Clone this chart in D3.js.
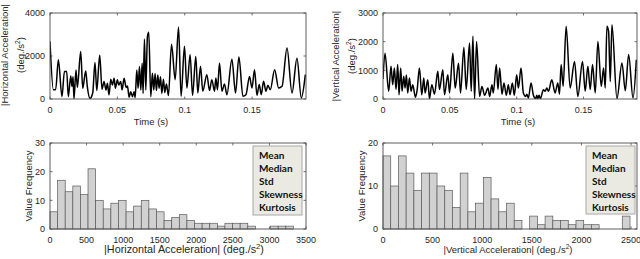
<!DOCTYPE html>
<html>
<head>
<meta charset="utf-8">
<script src="https://cdn.jsdelivr.net/npm/d3@7"></script>
<style>
    body { margin: 0; background: #fff; }
    svg { display: block; font-family: "Liberation Sans", Arial, sans-serif; }
</style>
</head>
<body>
<svg width="640" height="259"></svg>
<script>
// time (ms), |acceleration| (deg./s^2)
const horizontalSeries = [
    [0, 2680], [2.5, 430], [4.2, 430], [6.2, 1820], [8.9, 110], [10.7, 1280], [12.4, 1280], [13.6, 110],
    [15.4, 1070], [16.3, 580], [17.1, 1040], [17.8, 0], [19.3, 1350], [20.3, 540], [22.8, 2210], [24.3, 500],
    [26.5, 1300], [27.7, 580], [29.7, 30], [31.7, 280], [33.4, 1700], [34.7, 390], [36.9, 2040], [38.6, 450],
    [40.1, 810], [41.6, 420], [42.6, 730], [43.8, 190], [45.1, 920], [46.3, 650], [47.6, 960], [48.5, 500],
    [50.0, 890], [51.0, 650], [52.5, 810], [53.5, 420], [55.0, 960], [56.5, 540], [57.5, 600], [58.7, 80],
    [59.9, 340], [61.2, 110], [62.4, 340], [63.2, 60], [64.4, 1350], [65.4, 500], [66.4, 1510], [67.4, 420],
    [68.4, 1660], [69.1, 260], [70.1, 2790], [71.1, 420], [72.3, 2900], [73.3, 3100], [74.8, 110], [76.0, 1200],
    [77.0, 420], [78.0, 1170], [79.0, 390], [80.0, 1120], [81.0, 500], [82.0, 1040], [83.0, 260], [84.2, 920],
    [85.2, 300], [86.4, 700], [87.9, 160], [90.2, 2550], [92.9, 900], [95.4, 3350], [97.3, 125], [99.8, 2450],
    [101.6, 510], [104.0, 2060], [105.8, 170], [108.2, 1980], [109.7, 280], [111.7, 1520], [113.4, 360], [116.4, 1130],
    [118.4, 390], [120.1, 900], [122.1, 360], [123.1, 980], [124.3, 430], [125.8, 1670], [127.6, 360], [129.5, 700],
    [131.3, 200], [135.0, 1850], [137.7, 280], [140.2, 1950], [143.2, 130], [145.4, 200], [148.1, 1050], [149.9, 510],
    [151.8, 1360], [153.6, 170], [155.3, 670], [156.8, 200], [158.5, 820], [160.3, 360], [161.7, 640], [163.5, 430],
    [166.7, 1360], [169.7, 510], [172.2, 590], [175.9, 2370], [179.6, 280], [183.3, 1900], [186.5, 50], [189.5, 1130]
];

const verticalSeries = [
    [0, 700], [1.5, 1600], [4.25, 270], [6.0, 1140], [7.25, 500], [8.5, 1080], [9.75, 330], [11.0, 1200],
    [12.0, 150], [13.25, 1080], [14.25, 270], [15.5, 790], [16.5, 380], [17.5, 840], [18.5, 210], [19.75, 730],
    [21.0, 270], [22.25, 500], [24.25, 60], [25.5, 300], [27.25, 1080], [29.0, 150], [30.5, 730], [31.5, 210],
    [33.5, 670], [34.75, 10], [36.5, 500], [38.5, 170], [41.0, 965], [42.25, 330], [44.75, 1020], [46.0, 150],
    [48.5, 850], [49.75, 210], [52.25, 1600], [54.0, 380], [56.5, 1250], [58.0, 210], [60.5, 1800], [62.25, 330],
    [64.75, 1950], [66.0, 270], [67.25, 2190], [68.5, 0], [70.0, 2010], [72.25, 90], [74.0, 440], [76.0, 130],
    [78.5, 380], [79.75, 90], [81.5, 500], [82.5, 210], [84.75, 1200], [86.0, 330], [87.25, 1080], [89.0, 170],
    [90.5, 560], [92.25, 130], [93.75, 500], [95.0, 150], [96.75, 560], [98.25, 130], [100.0, 850], [101.25, 380],
    [103.25, 1080], [105.0, 210], [106.75, 90], [107.5, 170], [108.75, 35], [110.75, 560], [112.5, 130], [114.25, 10],
    [115.0, 130], [115.75, 10], [116.75, 130], [117.75, 10], [120.0, 325], [121.25, 270], [122.5, 380], [123.75, 270],
    [126.25, 670], [128.75, 210], [130.75, 560], [132.0, 170], [133.25, 1200], [134.75, 440], [137.0, 2535], [140.0, 380],
    [143.25, 1310], [145.75, 90], [149.25, 1310], [151.25, 270], [153.25, 1140], [155.0, 330], [156.75, 1200], [158.75, 210],
    [160.75, 2010], [163.25, 440], [165.0, 1080], [166.25, 380], [167.5, 2535], [168.75, 2360], [170.0, 610], [171.25, 2590],
    [175.0, 10], [178.75, 1255], [181.25, 290], [183.75, 1550], [187.0, 35], [189.5, 1370]
];

// histogram counts per bin
const horizontalCounts = [6, 17, 13, 15, 12, 21, 10, 7, 9, 10, 6, 8, 10, 7, 6, 3,
    4, 5, 3, 2, 2, 2, 1, 2, 2, 2, 1, 0, 0, 1, 1, 1];
const verticalCounts = [17, 10, 17, 13, 9, 13, 13, 10, 9, 5, 13, 4, 6, 12, 7, 4,
    6, 2, 0, 3, 1, 3, 2, 2, 1, 2, 1, 1, 0, 0, 0, 3];
const horizontalBinWidth = 104;
const verticalBinWidth = 77.8;

const timeTicks = [0, 0.05, 0.1, 0.15];
const horizontalAccelTicks = [0, 2000, 4000];
const verticalAccelTicks = [0, 1000, 2000, 3000];
const horizontalHistTicks = [0, 500, 1000, 1500, 2000, 2500, 3000, 3500];
const verticalHistTicks = [0, 500, 1000, 1500, 2000, 2500];
const horizontalFreqTicks = [0, 10, 20, 30];
const verticalFreqTicks = [0, 10, 20];
const statNames = ["Mean", "Median", "Std", "Skewness", "Kurtosis"];

const AXIS_COLOR = "#262626";
const BOX_COLOR = "#4d4d4d";

class Figure {
    constructor() {
        this.svg = d3.select("svg");
        this.clipCount = 0;
    }

    frame(box, x, y, xTicks, yTicks, xFormat, yFormat) {
        const g = this.svg.append("g");
        const tickLen = 2.5;

        g.append("rect")
            .attr("x", box.left).attr("y", box.top)
            .attr("width", box.right - box.left)
            .attr("height", box.bottom - box.top)
            .attr("fill", "#fff");

        const marks = g.append("g")
            .attr("stroke", BOX_COLOR)
            .attr("stroke-width", 0.8);

        xTicks.forEach(t => {
            const px = x(t);
            marks.append("line").attr("x1", px).attr("x2", px)
                .attr("y1", box.bottom).attr("y2", box.bottom - tickLen);
            marks.append("line").attr("x1", px).attr("x2", px)
                .attr("y1", box.top).attr("y2", box.top + tickLen);
        });
        yTicks.forEach(t => {
            const py = y(t);
            marks.append("line").attr("y1", py).attr("y2", py)
                .attr("x1", box.left).attr("x2", box.left + tickLen);
            marks.append("line").attr("y1", py).attr("y2", py)
                .attr("x1", box.right).attr("x2", box.right - tickLen);
        });

        g.selectAll(".xt")
            .data(xTicks)
            .enter().append("text")
            .attr("x", d => x(d))
            .attr("y", box.bottom + 13.5)
            .attr("text-anchor", "middle")
            .attr("font-size", 9)
            .attr("fill", AXIS_COLOR)
            .text(xFormat);

        g.selectAll(".yt")
            .data(yTicks)
            .enter().append("text")
            .attr("x", box.left - 5)
            .attr("y", d => y(d) + 3.2)
            .attr("text-anchor", "end")
            .attr("font-size", 9)
            .attr("fill", AXIS_COLOR)
            .text(yFormat);

        return g;
    }

    outline(box) {
        this.svg.append("rect")
            .attr("x", box.left).attr("y", box.top)
            .attr("width", box.right - box.left)
            .attr("height", box.bottom - box.top)
            .attr("fill", "none")
            .attr("stroke", BOX_COLOR)
            .attr("stroke-width", 0.9);
    }

    yLabel(lines, cx, cy, size) {
        lines.forEach((line, i) => {
            const t = this.svg.append("text")
                .attr("transform", `translate(${cx + i * 16},${cy}) rotate(-90)`)
                .attr("text-anchor", "middle")
                .attr("font-size", size)
                .attr("fill", AXIS_COLOR);
            this.richText(t, line);
        });
    }

    xLabel(line, cx, y, size) {
        const t = this.svg.append("text")
            .attr("x", cx).attr("y", y)
            .attr("text-anchor", "middle")
            .attr("font-size", size)
            .attr("fill", AXIS_COLOR);
        this.richText(t, line);
    }

    // "^2" becomes a superscript
    richText(t, line) {
        const parts = line.split("^2");
        t.append("tspan").text(parts[0]);
        if (parts.length > 1) {
            t.append("tspan").attr("dy", -4).attr("font-size", "0.7em").text("2");
            t.append("tspan").attr("dy", 4).text(parts[1]);
        }
    }

    drawSeries(box, series, yMax, yTicks) {
        const x = d3.scaleLinear().domain([0, 0.19]).range([box.left, box.right]);
        const y = d3.scaleLinear().domain([0, yMax]).range([box.bottom, box.top]);

        this.frame(box, x, y, timeTicks, yTicks, d => d === 0 ? "0" : d3.format("~g")(d), d => d);

        const id = "clip" + (this.clipCount++);
        this.svg.append("clipPath").attr("id", id)
            .append("rect")
            .attr("x", box.left).attr("y", box.top)
            .attr("width", box.right - box.left)
            .attr("height", box.bottom - box.top);

        const line = d3.line()
            .x(d => x(d[0] / 1000))
            .y(d => y(d[1]))
            .curve(d3.curveMonotoneX);

        this.svg.append("path")
            .datum(series)
            .attr("clip-path", `url(#${id})`)
            .attr("d", line)
            .attr("fill", "none")
            .attr("stroke", "#000")
            .attr("stroke-width", 1.5)
            .attr("stroke-linejoin", "round");

        this.outline(box);
    }

    drawHistogram(box, counts, binWidth, xMax, xTicks, yMax, yTicks, legendBox) {
        const x = d3.scaleLinear().domain([0, xMax]).range([box.left, box.right]);
        const y = d3.scaleLinear().domain([0, yMax]).range([box.bottom, box.top]);

        this.frame(box, x, y, xTicks, yTicks, d => d, d => d);

        this.svg.append("g")
            .selectAll("rect")
            .data(counts.map((c, i) => ({ x0: i * binWidth, x1: (i + 1) * binWidth, c })))
            .enter().filter(d => d.c > 0)
            .append("rect")
            .attr("x", d => x(d.x0))
            .attr("y", d => y(d.c))
            .attr("width", d => x(d.x1) - x(d.x0))
            .attr("height", d => y(0) - y(d.c))
            .attr("fill", "#d1d1d1")
            .attr("stroke", "#5a5a5a")
            .attr("stroke-width", 0.7);

        this.outline(box);

        const leg = this.svg.append("g");
        leg.append("rect")
            .attr("x", legendBox.left).attr("y", legendBox.top)
            .attr("width", legendBox.right - legendBox.left)
            .attr("height", legendBox.bottom - legendBox.top)
            .attr("fill", "#ebeae2")
            .attr("stroke", "#a8a8a8")
            .attr("stroke-width", 1);

        leg.selectAll("text")
            .data(statNames)
            .enter().append("text")
            .attr("x", legendBox.left + 6)
            .attr("y", (d, i) => legendBox.top + 13 + i * 13.1)
            .attr("font-family", "Lato, sans-serif")
            .attr("font-weight", "bold")
            .attr("font-size", 10)
            .attr("fill", "#111")
            .text(d => d);
    }
}

const fig = new Figure();

fig.drawSeries({ left: 50, right: 306, top: 13, bottom: 99 }, horizontalSeries, 4000, horizontalAccelTicks);
fig.yLabel(["|Horizontal Acceleration|", "(deg./s^2)"], 7.5, 55, 9.5);
fig.xLabel("Time (s)", 151, 125, 9.5);

fig.drawSeries({ left: 383, right: 637, top: 13, bottom: 99 }, verticalSeries, 3000, verticalAccelTicks);
fig.yLabel(["|Vertical Acceleration|", "(deg./s^2)"], 338.5, 56, 9.5);
fig.xLabel("Time (s)", 518, 125, 9.5);

fig.drawHistogram({ left: 50, right: 306, top: 143, bottom: 229 }, horizontalCounts, horizontalBinWidth,
    3500, horizontalHistTicks, 30, horizontalFreqTicks, { left: 253, right: 302, top: 146, bottom: 215 });
fig.yLabel(["Value Frequency"], 31.5, 186, 9.5);
fig.xLabel("|Horizontal Acceleration| (deg./s^2)", 184, 253, 10.8);

fig.drawHistogram({ left: 383, right: 637, top: 143, bottom: 229 }, verticalCounts, verticalBinWidth,
    2560, verticalHistTicks, 20, verticalFreqTicks, { left: 586, right: 635, top: 146, bottom: 214 });
fig.yLabel(["Value Frequency"], 365, 186, 9.5);
fig.xLabel("|Vertical Acceleration| (deg./s^2)", 508, 253, 9.5);
</script>
</body>
</html>
